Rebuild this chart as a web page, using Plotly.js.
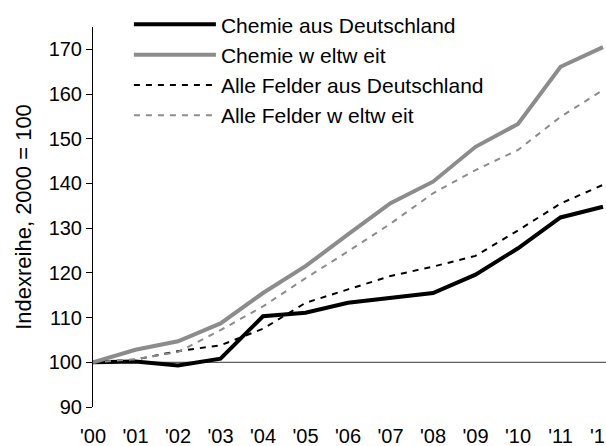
<!DOCTYPE html>
<html>
<head>
<meta charset="utf-8">
<script src="https://cdn.plot.ly/plotly-3.0.1.min.js"></script>
<style>html,body{margin:0;padding:0;background:#fff;}#chart{width:606px;height:446px;}</style>
</head>
<body>
<div id="chart"></div>
<script>
const years = ["'00","'01","'02","'03","'04","'05","'06","'07","'08","'09","'10","'11","'12"];
const chemieDE = [100, 100.2, 99.3, 100.8, 110.3, 111.1, 113.3, 114.3, 115.5, 119.6, 125.5, 132.4, 134.8];
const chemieWelt = [100, 102.8, 104.7, 108.7, 115.5, 121.5, 128.6, 135.6, 140.4, 148.2, 153.3, 166.1, 170.5];
const alleDE = [100, 100.6, 102.5, 103.8, 107.5, 113.3, 116.3, 119.3, 121.4, 123.8, 129.5, 135.5, 139.7];
const alleWelt = [100, 100.7, 102.3, 107.2, 112.5, 118.8, 124.8, 131.0, 137.8, 143.0, 147.5, 154.9, 160.9];
const names = ["Chemie aus Deutschland", "Chemie w eltw eit", "Alle Felder aus Deutschland", "Alle Felder w eltw eit"];
const yTicks = [90, 100, 110, 120, 130, 140, 150, 160, 170];

const xIdx = years.map((_, i) => i);
const traces = [
  {y: chemieDE, name: names[0], line: {color: '#000000', width: 4}},
  {y: chemieWelt, name: names[1], line: {color: '#8c8c8c', width: 4}},
  {y: alleDE, name: names[2], line: {color: '#000000', width: 2, dash: '6px,6px'}},
  {y: alleWelt, name: names[3], line: {color: '#8c8c8c', width: 2, dash: '6px,6px'}}
].map((t, i) => Object.assign({x: xIdx, type: 'scatter', mode: 'lines', legendgroup: 'g' + i}, t));

const layout = {
  width: 606, height: 446,
  margin: {l: 93, r: 0, t: 27, b: 39},
  paper_bgcolor: '#fff', plot_bgcolor: 'rgba(0,0,0,0)',
  font: {family: 'Liberation Sans, Arial, sans-serif', size: 20, color: '#000'},
  showlegend: true,
  legend: {x: 0.07, y: 1.06, xanchor: 'left', yanchor: 'top', bgcolor: 'rgba(0,0,0,0)',
           font: {size: 21}, itemwidth: 82, tracegroupgap: 7, traceorder: 'normal'},
  xaxis: {range: [0, 12.07], tickvals: xIdx, ticktext: years, showgrid: false, zeroline: false,
          showline: false, ticks: '', ticklabelstandoff: 15, ticklabeloverflow: 'allow', fixedrange: true},
  yaxis: {range: [90, 175], tickvals: yTicks, showgrid: false, zeroline: false, showline: true,
          linecolor: '#000', linewidth: 1, ticks: 'outside', ticklen: 6, tickcolor: '#000',
          title: {text: 'Indexreihe, 2000 = 100', font: {size: 22}, standoff: 10}},
  shapes: [{type: 'line', xref: 'paper', x0: 0, x1: 1, yref: 'y', y0: 100, y1: 100,
            line: {color: '#333', width: 1}, layer: 'below'}]
};
Plotly.newPlot('chart', traces, layout, {displayModeBar: false, staticPlot: true});
</script>
</body>
</html>
